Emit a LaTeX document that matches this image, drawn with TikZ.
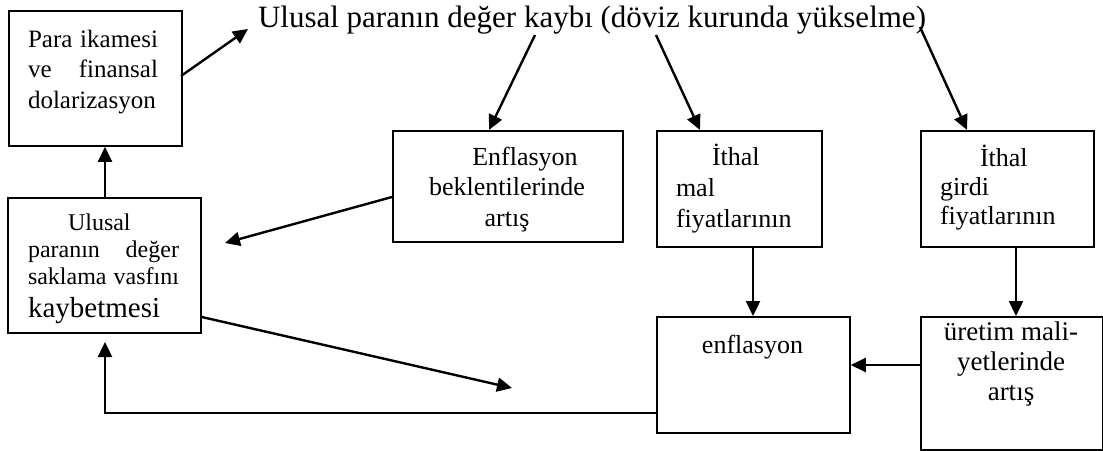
\documentclass[tikz,border=0pt]{standalone}
\usepackage{fontspec}
\setmainfont{Liberation Serif}
\usetikzlibrary{arrows.meta}
\newcommand\tstrut{\rule{0pt}{24pt}}
\begin{document}
\begin{tikzpicture}[x=1pt,y=-1pt,
  box/.style={draw, line width=1.8pt, inner sep=0pt, anchor=north west},
  txt/.style={inner sep=0pt, outer sep=0pt},
  arr/.style={line width=2.4pt, -{Triangle[length=15pt,width=14pt]}},
  ln/.style={line width=2.4pt}]
\useasboundingbox (0,0) rectangle (1103,450);

% boxes
\node[box, minimum width=173pt, minimum height=135pt] (A) at (8,10) {};
\node[box, minimum width=193pt, minimum height=135pt] (B) at (7,197) {};
\node[box, minimum width=230pt, minimum height=111pt] (C) at (392,130) {};
\node[box, minimum width=165pt, minimum height=116pt] (D) at (656,130) {};
\node[box, minimum width=173pt, minimum height=116pt] (E) at (920,130) {};
\node[box, minimum width=193pt, minimum height=116pt] (G) at (656,316) {};
\node[box, minimum width=182pt, minimum height=133pt] (F) at (920,316) {};

% title
\node[txt, anchor=base west, font={\fontsize{31}{36}\selectfont}] (T) at (258,27)
  {Ulusal paranın değer kaybı (döviz kurunda yükselme)};

% box texts
\node[txt, anchor=north west, align=left, font={\fontsize{25}{30.5}\selectfont}] (At) at (28,23)
  {\tstrut\makebox[130pt][s]{Para ikamesi}\\ \makebox[130pt][s]{ve finansal}\\ dolarizasyon};
\node[txt, anchor=north west, align=left, font={\fontsize{24}{27}\selectfont}] (Bt) at (28,206)
  {\tstrut\hspace*{40pt}Ulusal\\ \makebox[151pt][s]{paranın değer}\\ \makebox[151pt][s]{saklama vasfını}\\[6pt] {\fontsize{29}{33}\selectfont kaybetmesi}};
\node[txt, anchor=north, align=center, font={\fontsize{26}{30.5}\selectfont}] (Ct) at (507,141)
  {\tstrut\hspace*{36pt}Enflasyon\\ beklentilerinde\\ artış};
\node[txt, anchor=north west, align=left, font={\fontsize{26}{31}\selectfont}] (Dt) at (676,141)
  {\tstrut\hspace*{36pt}İthal\\ mal\\ fiyatlarının};
\node[txt, anchor=north west, align=left, font={\fontsize{26}{29}\selectfont}] (Et) at (940,142)
  {\tstrut\hspace*{40pt}İthal\\ girdi\\ fiyatlarının};
\node[txt, anchor=north, font={\fontsize{26}{30}\selectfont}] (Gt) at (752.5,329)
  {\tstrut enflasyon};
\node[txt, anchor=north, align=center, font={\fontsize{27}{30}\selectfont}] (Ft) at (1011,316)
  {\tstrut üretim mali-\\ yetlerinde\\ artış};

% coordinates
\coordinate (a1) at (181,76);
\coordinate (t0) at (248,29);
\coordinate (t1) at (535,35);
\coordinate (t2) at (656,35);
\coordinate (t3) at (920,27);
\coordinate (xc) at (489,0);
\coordinate (xd1) at (700,0);
\coordinate (xe1) at (967,0);
\coordinate (xab) at (105,0);
\coordinate (xd) at (753,0);
\coordinate (xe) at (1016,0);
\coordinate (yfg) at (0,365);
\coordinate (ycb) at (0,197);
\coordinate (cbend) at (225,243);
\coordinate (ybg) at (0,317);
\coordinate (bgend) at (512,388);
\coordinate (ygl) at (0,413);
\coordinate (bend) at (105,342);

% connectors
\draw[arr] (a1) -- (t0);
\draw[arr] (t1) -- (C.north -| xc);
\draw[arr] (t2) -- (D.north -| xd1);
\draw[arr] (t3) -- (E.north -| xe1);
\draw[arr] (B.north -| xab) -- (A.south -| xab);
\draw[arr] (C.west |- ycb) -- (cbend);
\draw[arr] (B.east |- ybg) -- (bgend);
\draw[arr] (D.south -| xd) -- (G.north -| xd);
\draw[arr] (E.south -| xe) -- (F.north -| xe);
\draw[arr] (F.west |- yfg) -- (G.east |- yfg);
\draw[arr] (G.west |- ygl) -| (bend);
\end{tikzpicture}
\end{document}
